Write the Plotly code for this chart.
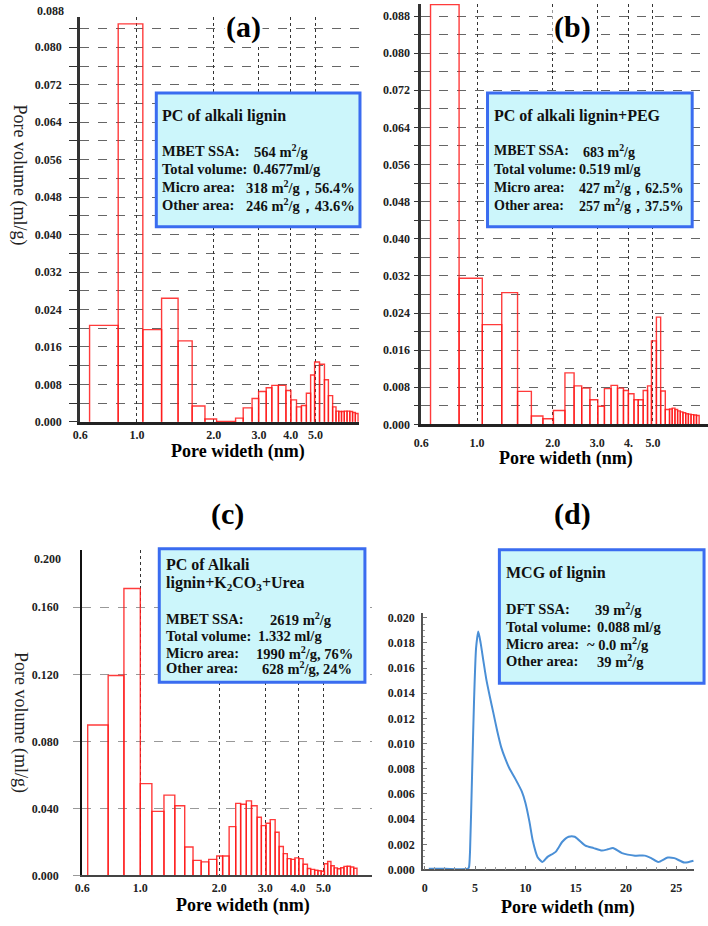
import math
import plotly.graph_objects as go

W, H = 708, 926
SERIF = "Liberation Serif, Times New Roman, DejaVu Serif, serif"

# ---------------- data ----------------
# (a) PC of alkali lignin : bin edges (nm) and pore volume (ml/g)
edges_a = [0.653, 0.845, 1.055, 1.249, 1.449, 1.645, 1.846, 2.050, 2.432, 2.605,
           2.822, 2.993, 3.205, 3.371, 3.575, 3.828, 4.002, 4.210, 4.401, 4.601,
           4.781, 4.955, 5.180, 5.415, 5.611, 5.829, 6.009, 6.160, 6.315, 6.475,
           6.637, 6.805, 6.976, 7.152, 7.328]
vol_a = [0.0206, 0.0850, 0.0197, 0.0264, 0.0173, 0.0034, 0.0006, 0.0001, 0.0008, 0.0030,
         0.0050, 0.0065, 0.0073, 0.0078, 0.0078, 0.0067, 0.0047, 0.0032, 0.0035, 0.0061,
         0.0100, 0.0128, 0.0123, 0.0090, 0.0056, 0.0032, 0.0023, 0.0022, 0.0022, 0.0023,
         0.0023, 0.0022, 0.0020, 0.0018]

# (b) PC of alkali lignin+PEG
edges_b = [0.653, 0.848, 1.049, 1.253, 1.448, 1.643, 1.826, 2.010, 2.234, 2.429,
           2.604, 2.807, 3.017, 3.206, 3.406, 3.614, 3.816, 3.992, 4.202, 4.369,
           4.571, 4.757, 4.931, 5.159, 5.363, 5.595, 5.817, 5.961, 6.113, 6.264,
           6.419, 6.577, 6.745, 6.912, 7.083, 7.258, 7.444, 7.628]
vol_b = [0.0905, 0.0315, 0.0215, 0.0284, 0.0071, 0.0018, 0.0012, 0.0030, 0.0111, 0.0083,
         0.0078, 0.0053, 0.0039, 0.0077, 0.0084, 0.0078, 0.0073, 0.0066, 0.0053, 0.0053,
         0.0073, 0.0083, 0.0180, 0.0231, 0.0072, 0.0032, 0.0033, 0.0035, 0.0032, 0.0029,
         0.0027, 0.0025, 0.0023, 0.0022, 0.0021, 0.0020, 0.0019]

# (c) PC of Alkali lignin+K2CO3+Urea
edges_c = [0.630, 0.754, 0.866, 1.000, 1.107, 1.231, 1.354, 1.477, 1.589, 1.707,
           1.824, 1.956, 2.061, 2.182, 2.312, 2.414, 2.537, 2.656, 2.790, 2.896,
           3.017, 3.131, 3.269, 3.385, 3.513, 3.637, 3.756, 3.889, 4.027, 4.178,
           4.341, 4.467, 4.624, 4.759, 4.897, 5.039, 5.185, 5.336, 5.491, 5.649,
           5.813, 5.982, 6.155, 6.334, 6.519, 6.708]
vol_c = [0.0898, 0.1193, 0.1712, 0.0548, 0.0382, 0.0479, 0.0416, 0.0170, 0.0090, 0.0081,
         0.0096, 0.0116, 0.0116, 0.0291, 0.0430, 0.0425, 0.0445, 0.0416, 0.0347, 0.0297,
         0.0311, 0.0333, 0.0258, 0.0173, 0.0130, 0.0100, 0.0096, 0.0105, 0.0100, 0.0067,
         0.0041, 0.0036, 0.0031, 0.0028, 0.0025, 0.0070, 0.0083, 0.0058, 0.0045, 0.0040,
         0.0046, 0.0054, 0.0055, 0.0050, 0.0043]

# (d) MCG of lignin (DFT curve)
width_d = [0.4, 2.0, 4.3, 4.4, 4.5, 4.7, 4.9, 5.1, 5.32, 5.55, 5.82, 6.14, 6.5, 6.8,
           7.2, 7.6, 8.0, 8.43, 9.0, 9.64, 10.0, 10.4, 10.73, 11.2, 11.7, 12.2, 13.0,
           13.67, 14.3, 14.9, 15.96, 16.78, 17.6, 18.2, 18.7, 19.6, 20.9, 21.86, 22.5,
           23.2, 24.15, 24.8, 25.8, 26.7]
vol_d = [0.00005, 0.00005, 0.00006, 0.0002, 0.0015, 0.0075, 0.0135, 0.0176, 0.0189, 0.0180,
         0.0166, 0.0150, 0.0136, 0.0125, 0.0110, 0.0097, 0.0088, 0.0080, 0.0072, 0.0062,
         0.0053, 0.0038, 0.0023, 0.0010, 0.0006, 0.0010, 0.0014, 0.0022, 0.0026, 0.0026,
         0.0019, 0.0017, 0.0015, 0.0016, 0.0017, 0.0013, 0.0011, 0.0011, 0.0009, 0.0006,
         0.00095, 0.0009, 0.00055, 0.0007]

log_ticks = [0.6, 1, 2, 3, 4, 5]
log_text_a = ["0.6", "1.0", "2.0", "3.0", "4.0", "5.0"]
log_text_b = ["0.6", "1.0", "2.0", "3.0", "4.", "5.0"]
lin_ticks_d = [0, 5, 10, 15, 20, 25]


def X(px):
    return px / W


def Y(py):
    return 1 - py / H


def outline(edges, vols):
    xs, ys = [], []
    for x0, x1, h in zip(edges[:-1], edges[1:], vols):
        xs += [x0, x0, x1, x1, None]
        ys += [0, h, h, 0, None]
    return xs, ys


fig = go.Figure()
RED = "rgba(255,25,25,0.85)"
for i, (e, v) in enumerate([(edges_a, vol_a), (edges_b, vol_b), (edges_c, vol_c)]):
    xs, ys = outline(e, v)
    sfx = "" if i == 0 else str(i + 1)
    fig.add_trace(go.Scatter(x=xs, y=ys, mode="lines", line=dict(color=RED, width=1.4),
                             xaxis="x" + sfx, yaxis="y" + sfx, hoverinfo="skip",
                             showlegend=False))

fig.add_trace(go.Scatter(x=width_d, y=vol_d, mode="lines",
                         line=dict(color="#4a8fd6", width=2, shape="spline", smoothing=0.6),
                         xaxis="x4", yaxis="y4", hoverinfo="skip", showlegend=False))

tf = dict(family=SERIF, size=12, color="#222", weight="bold")
L06 = math.log10(0.6)

layout = dict(
    width=W, height=H, margin=dict(l=0, r=0, t=0, b=0),
    paper_bgcolor="white", plot_bgcolor="rgba(0,0,0,0)", showlegend=False,
    # (a)
    xaxis=dict(domain=[X(73), X(355)], type="log", range=[L06, 0.8687], anchor="y",
               tickmode="array", tickvals=log_ticks, ticktext=log_text_a,
               showgrid=True, gridcolor="#333", griddash="dot", gridwidth=1.2,
               showline=True, linecolor="#222", linewidth=3, ticks="",
               tickfont=tf, zeroline=False, ticklabelstandoff=0),
    yaxis=dict(domain=[Y(424), Y(15)], range=[0, 0.0865], anchor="x",
               tick0=0, dtick=0.008, tickformat=".3f",
               showgrid=True, gridcolor="#666", griddash="dash", gridwidth=1,
               minor=dict(dtick=0.004, showgrid=True, gridcolor="#666", griddash="dash",
                          ticks="outside", ticklen=8, tickcolor="#333"),
               ticks="outside", ticklen=8, tickcolor="#333",
               showline=True, linecolor="#333", linewidth=3, zeroline=False,
               tickfont=tf, ticklabelstandoff=5),
    # (b)
    xaxis2=dict(domain=[X(418), X(708)], type="log", range=[L06, 0.9176], anchor="y2",
                tickmode="array", tickvals=log_ticks, ticktext=log_text_b,
                showgrid=True, gridcolor="#333", griddash="dot", gridwidth=1.2,
                showline=True, linecolor="#222", linewidth=3, ticks="",
                tickfont=tf, zeroline=False, ticklabelstandoff=5),
    yaxis2=dict(domain=[Y(426.5), Y(2)], range=[0, 0.0906], anchor="x2",
                tick0=0, dtick=0.008, tickformat=".3f",
                showgrid=True, gridcolor="#666", griddash="dash", gridwidth=1,
                minor=dict(dtick=0.004, showgrid=True, gridcolor="#666", griddash="dash",
                           ticks="outside", ticklen=4, tickcolor="#333"),
                ticks="outside", ticklen=4, tickcolor="#333",
                showline=True, linecolor="#333", linewidth=3, zeroline=False,
                tickfont=tf, ticklabelstandoff=2),
    # (c)
    xaxis3=dict(domain=[X(75), X(368)], type="log", range=[L06, 0.8833], anchor="y3",
                tickmode="array", tickvals=log_ticks, ticktext=log_text_a,
                showgrid=True, gridcolor="#333", griddash="dot", gridwidth=1.2,
                showline=True, linecolor="#444", linewidth=2, ticks="",
                tickfont=tf, zeroline=False, ticklabelstandoff=0),
    yaxis3=dict(domain=[Y(882), Y(553)], range=[0, 0.1944], anchor="x3",
                tickmode="array", tickvals=[0, 0.04, 0.08, 0.12, 0.16], tickformat=".3f",
                showgrid=True, gridcolor="#999", griddash="dash", gridwidth=1,
                ticks="outside", ticklen=7, tickcolor="#999",
                showline=True, linecolor="#111", linewidth=2, zeroline=False,
                tickfont=tf, ticklabelstandoff=12),
    # (d)
    xaxis4=dict(domain=[X(419.7), X(694)], range=[-0.18, 26.77], anchor="y4",
                tickmode="array", tickvals=lin_ticks_d, showgrid=False,
                showline=True, linecolor="#555", linewidth=1.5,
                ticks="inside", ticklen=4, tickcolor="#777",
                minor=dict(dtick=1, ticks="inside", ticklen=3, tickcolor="#999"),
                tickfont=tf, zeroline=False, ticklabelstandoff=6),
    yaxis4=dict(domain=[Y(876), Y(616.7)], range=[0, 0.0204], anchor="x4",
                tick0=0, dtick=0.002, tickformat=".3f", showgrid=False,
                showline=True, linecolor="#555", linewidth=1.5,
                ticks="inside", ticklen=4, tickcolor="#777",
                minor=dict(dtick=0.0005, ticks="inside", ticklen=2, tickcolor="#999"),
                tickfont=tf, zeroline=False, ticklabelstandoff=4),
)
fig.update_layout(**layout)

BLUE = "#3a6cf0"
FILL = "#ccf6fb"
shapes = []
for (x0, y0, x1, y1) in [(150, 92, 356, 227), (485, 92, 692, 227),
                         (153, 552, 361, 687), (497, 553, 704, 688)]:
    shapes.append(dict(type="rect", xref="paper", yref="paper",
                       x0=X(x0), x1=X(x1), y0=Y(y1), y1=Y(y0),
                       line=dict(color=BLUE, width=3), fillcolor=FILL, layer="above"))
fig.update_layout(shapes=shapes)

ann = []


def txt(px, py, s, size=14.5, anchor="left", bold=True, color="#111", **kw):
    d = dict(x=X(px), y=Y(py), xref="paper", yref="paper",
             text=f"<b>{s}</b>" if bold else s, showarrow=False,
             xanchor=anchor, yanchor="middle",
             font=dict(family=SERIF, size=size, color=color))
    d.update(kw)
    ann.append(d)


M2 = "m<sup>2</sup>/g"
# panel letters
for px, py, s in [(238, 25, "(a)"), (571, 25, "(b)"), (222, 517, "(c)"), (571, 517, "(d)")]:
    txt(px, py, s, size=30, anchor="center", color="#000", bgcolor="white")

# box (a)
txt(154, 115, "PC of alkali lignin", size=16)
txt(154, 150, "MBET SSA:")
txt(247, 150, f"564 {M2}")
txt(154, 169, "Total volume:")
txt(246, 169, "0.4677ml/g")
txt(154, 187, "Micro area:")
txt(239, 187, f"318 {M2}，56.4%")
txt(154, 205, "Other area:")
txt(239, 205, f"246 {M2}，43.6%")

# box (b)
txt(490, 115, "PC of alkali lignin+PEG", size=16)
txt(490, 150, "MBET SSA:", size=14)
txt(580, 150, f"683 {M2}", size=14)
txt(490, 169, "Total volume:", size=14)
txt(576, 169, "0.519 ml/g", size=14)
txt(490, 187, "Micro area:", size=14)
txt(576, 187, f"427 {M2}，62.5%", size=14)
txt(490, 205, "Other area:", size=14)
txt(576, 205, f"257 {M2}，37.5%", size=14)

# box (c)
txt(158, 568, "PC of Alkali", size=16)
txt(158, 587, "lignin+K<sub>2</sub>CO<sub>3</sub>+Urea", size=16)
txt(158, 623, "MBET SSA:")
txt(263, 623, f"2619 {M2}")
txt(158, 640, "Total volume:")
txt(251, 640, "1.332 ml/g")
txt(158, 657, "Micro area:")
txt(249, 657, f"1990 {M2}, 76%")
txt(158, 673, "Other area:")
txt(255, 673, f"628 {M2}, 24%")

# box (d)
txt(502, 577, "MCG of lignin", size=16)
txt(502, 613, "DFT SSA:")
txt(592, 613, f"39 {M2}")
txt(502, 631, "Total volume:")
txt(594, 631, "0.088 ml/g")
txt(502, 648, "Micro area:")
txt(584, 648, f"~ 0.0 {M2}")
txt(502, 665, "Other area:")
txt(594, 665, f"39 {M2}")

# axis titles
for px, py in [(233, 454), (564, 461), (238, 912), (566, 914)]:
    txt(px, py, "Pore wideth (nm)", size=18, anchor="center", color="#000")
for py in [175, 728]:
    txt(12, py, "Pore volume (ml/g)", size=18, anchor="center", bold=False,
        color="#222", textangle=90)

# stray top labels
txt(59, 9, "0.088", size=12, anchor="right", color="#222")
txt(56, 562, "0.200", size=12, anchor="right", color="#222")

fig.update_layout(annotations=ann)
fig.write_html("out.html")
